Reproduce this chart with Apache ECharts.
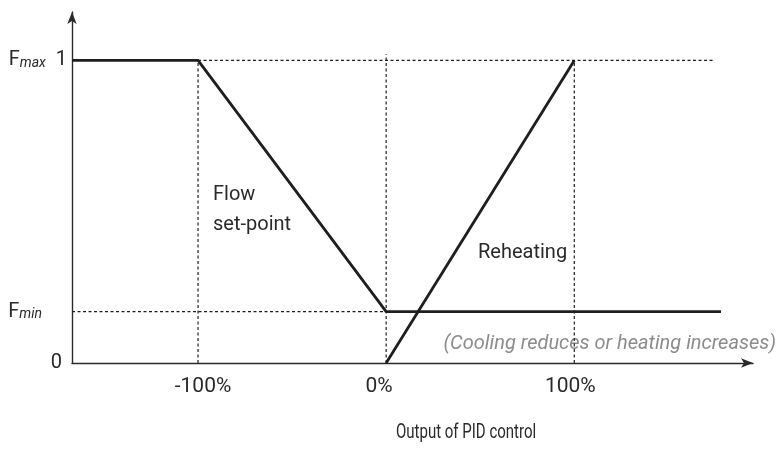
<!DOCTYPE html>
<html>
<head>
<meta charset="utf-8">
<script src="https://cdn.jsdelivr.net/npm/echarts@6/dist/echarts.min.js"></script>
<style>
  html, body { margin: 0; padding: 0; background: #fff; }
  #chart { width: 780px; height: 450px; }
</style>
</head>
<body>
<div id="chart"></div>
<script>
// PID output (%) on x, flow set-point fraction on y
const X_MIN = -167;
const X_MAX = 195;
const Y_MAX = 1.16;
const F_MIN = 0.17;
const F_MAX = 1;

const xTickValues = [-100, 0, 100];
const xTickLabels = ['-100%', '0%', '100%'];
const yTickValues = [0, F_MIN, F_MAX];

// Flow set-point curve
const flowX = [X_MIN, -100, 0, 178];
const flowY = [F_MAX, F_MAX, F_MIN, F_MIN];

// Reheating curve
const reheatX = [0, 100];
const reheatY = [0, 1];

// Dotted guide lines: [x0, y0, x1, y1]
const guides = [
  [-100, F_MAX, 174, F_MAX],
  [X_MIN, F_MIN, 178, F_MIN],
  [-100, 0, -100, F_MAX],
  [0, 0, 0, F_MAX + 0.02],
  [100, 0, 100, F_MAX]
];

const INK = '#1e1e1e';
const TEXT = '#2a2a2a';
const FONT = 'Roboto, "Liberation Sans", sans-serif';

function pairs(xs, ys) { return xs.map((x, i) => [x, ys[i]]); }

const guideSeries = guides.map(g => ({
  type: 'line',
  data: [[g[0], g[1]], [g[2], g[3]]],
  showSymbol: false,
  silent: true,
  z: 1,
  lineStyle: { color: INK, width: 1.2, type: [3, 2.5] }
}));

const tickStyle = { fontSize: 21, fontFamily: FONT, color: TEXT };

const chart = echarts.init(document.getElementById('chart'), null, { renderer: 'canvas' });
chart.setOption({
  animation: false,
  backgroundColor: '#fff',
  textStyle: { fontFamily: FONT },
  grid: { left: 72, right: 27, top: 12, bottom: 87, containLabel: false },
  xAxis: {
    type: 'value',
    min: X_MIN,
    max: X_MAX,
    splitLine: { show: false },
    axisTick: { show: false },
    axisLine: {
      show: true,
      onZero: false,
      symbol: ['none', 'arrow'],
      symbolSize: [7, 12],
      lineStyle: { color: TEXT, width: 1.4 }
    },
    axisLabel: {
      customValues: xTickValues,
      margin: 13,
      fontSize: 21,
      color: TEXT,
      fontFamily: FONT,
      formatter: v => {
        const i = xTickValues.indexOf(v);
        return '{t' + i + '|' + xTickLabels[i] + '}';
      },
      rich: {
        t0: Object.assign({ padding: [0, 0, 0, 10] }, tickStyle),
        t1: Object.assign({ padding: [0, 14, 0, 0] }, tickStyle),
        t2: Object.assign({ padding: [0, 8, 0, 0] }, tickStyle)
      }
    }
  },
  yAxis: {
    type: 'value',
    min: 0,
    max: Y_MAX,
    splitLine: { show: false },
    axisTick: { show: false },
    axisLine: {
      show: true,
      onZero: false,
      symbol: ['none', 'arrow'],
      symbolSize: [7, 12],
      lineStyle: { color: TEXT, width: 1.4 }
    },
    axisLabel: {
      customValues: yTickValues,
      margin: 5,
      color: TEXT,
      fontFamily: FONT,
      formatter: v => {
        if (v === F_MAX) return '{f|F}{s|max}{n|  1}';
        if (v === F_MIN) return '{f|F}{s|min}{pad|}';
        return '{n|0}{pad0|}';
      },
      rich: {
        f: { fontSize: 20, fontFamily: FONT, color: TEXT },
        s: { fontSize: 14, fontStyle: 'italic', fontFamily: FONT, color: TEXT, verticalAlign: 'bottom', padding: [6, 0, 0, 0] },
        n: { fontSize: 20, fontFamily: FONT, color: TEXT },
        pad: { width: 25 },
        pad0: { width: 5 }
      }
    }
  },
  graphic: [
    { type: 'text', left: 213, top: 180, style: { text: 'Flow\nset-point', font: '20px ' + FONT, fill: TEXT, lineHeight: 30 } },
    { type: 'text', left: 478, top: 243, style: { text: 'Reheating', font: '20px ' + FONT, fill: TEXT } },
    { type: 'text', right: 4, top: 334, style: { text: '(Cooling reduces or heating increases)', font: 'italic 20px ' + FONT, fill: '#8c8c8c' } },
    { type: 'text', x: 396, y: 423, scaleX: 0.75, style: { text: 'Output of PID control', font: '20px ' + FONT, fill: TEXT } }
  ],
  series: guideSeries.concat([
    {
      name: 'Flow set-point',
      type: 'line',
      data: pairs(flowX, flowY),
      showSymbol: false,
      z: 3,
      lineStyle: { color: INK, width: 2.8 }
    },
    {
      name: 'Reheating',
      type: 'line',
      data: pairs(reheatX, reheatY),
      showSymbol: false,
      z: 3,
      lineStyle: { color: INK, width: 2.8 }
    }
  ])
});
</script>
</body>
</html>
